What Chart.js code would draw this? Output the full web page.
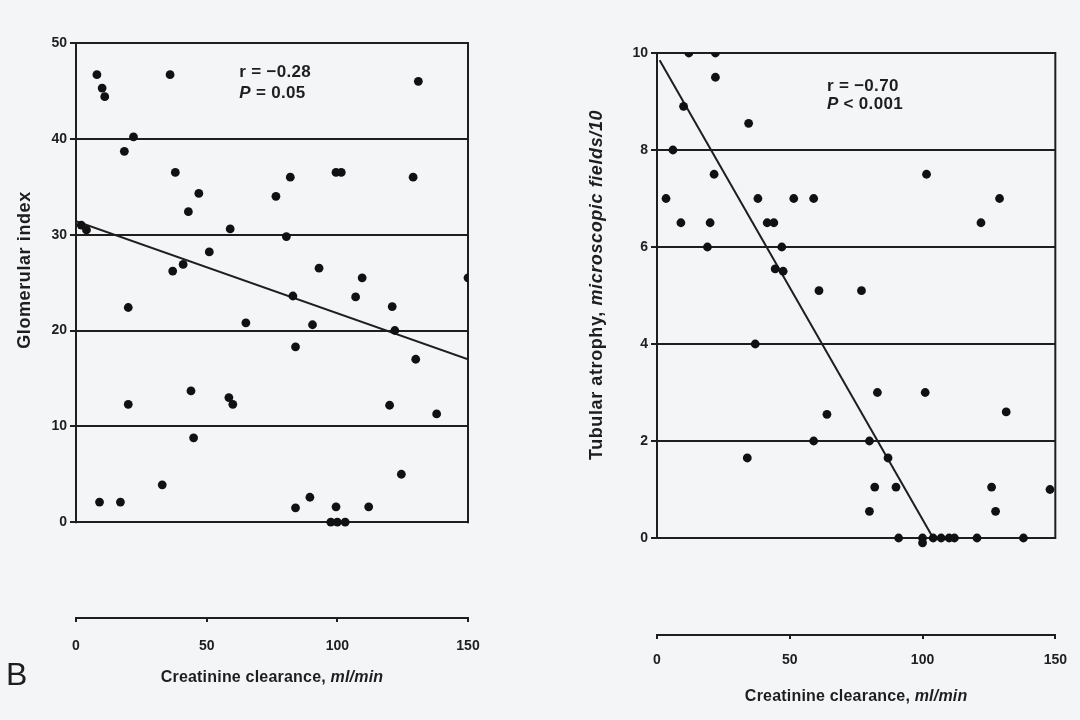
<!DOCTYPE html>
<html><head><meta charset="utf-8">
<script src="https://cdn.jsdelivr.net/npm/chart.js@4.4.1/dist/chart.umd.min.js"></script>
<style>
html,body{margin:0;padding:0;background:#f4f5f7;width:1080px;height:720px;overflow:hidden}
.p{position:absolute;top:0;height:720px;width:540px}
</style></head><body>
<div class="p" style="left:0"><canvas id="c1"></canvas></div>
<div class="p" style="left:540px"><canvas id="c2"></canvas></div>
<script>
// ---- data ----
const xTicks = [0, 50, 100, 150];
const glomTicks = [0, 10, 20, 30, 40, 50];
const tubTicks = [0, 2, 4, 6, 8, 10];

const glomX = [8, 10, 11, 36, 131, 22, 18.5, 38, 82, 99.5, 101.5, 129, 47, 76.5, 43, 2, 4, 59, 80.5, 51, 41, 37, 93, 109.5, 150,
  20, 83, 107, 121, 65, 90.5, 122, 84, 130, 20, 44, 58.5, 60, 120, 138, 45, 33, 124.5, 9, 17, 89.5, 84, 99.5, 112, 97.5, 100, 103];
const glomY = [46.7, 45.3, 44.4, 46.7, 46, 40.2, 38.7, 36.5, 36, 36.5, 36.5, 36, 34.3, 34, 32.4, 31, 30.5, 30.6, 29.8, 28.2, 26.9, 26.2, 26.5, 25.5, 25.5,
  22.4, 23.6, 23.5, 22.5, 20.8, 20.6, 20, 18.3, 17, 12.3, 13.7, 13, 12.3, 12.2, 11.3, 8.8, 3.9, 5, 2.1, 2.1, 2.6, 1.5, 1.6, 1.6, 0, 0, 0];
const glomFitX = [0, 150];
const glomFitY = [31.4, 17];

const tubX = [12, 22, 22, 10, 34.5, 6, 21.5, 101.5, 3.4, 38, 51.5, 59, 129, 9, 20, 41.5, 44, 122, 19, 47, 44.5, 47.5, 61, 77,
  37, 83, 101, 64, 131.5, 59, 80, 34, 87, 82, 90, 126, 148, 80, 127.5, 91, 100, 100, 104, 107, 110, 112, 120.5, 138];
const tubY = [10, 10, 9.5, 8.9, 8.55, 8, 7.5, 7.5, 7, 7, 7, 7, 7, 6.5, 6.5, 6.5, 6.5, 6.5, 6, 6, 5.55, 5.5, 5.1, 5.1,
  4, 3, 3, 2.55, 2.6, 2, 2, 1.65, 1.65, 1.05, 1.05, 1.05, 1, 0.55, 0.55, 0, 0, -0.1, 0, 0, 0, 0, 0, 0];
const tubFitX = [1, 104];
const tubFitY = [9.85, 0];

// ---- texts ----
const xTitleRuns = [['Creatinine clearance, ', false], ['ml/min', true]];
const glomTitleRuns = [['Glomerular index', false]];
const tubTitleRuns = [['Tubular atrophy, ', false], ['microscopic fields/10', true]];
const glomStats = [[['r = \u22120.28', false]], [['P', true], [' = 0.05', false]]];
const tubStats = [[['r = \u22120.70', false]], [['P', true], [' < 0.001', false]]];
const panelLabel = 'B';

const FAM = '"Liberation Sans", Arial, sans-serif';
const INK = '#1e1e1e';

function runFont(size, it, bold){ return (it ? 'italic ' : '') + (bold ? 'bold ' : '') + size + 'px ' + FAM; }
function drawRuns(ctx, runs, x, y, size, align, spacing){
  ctx.letterSpacing = (spacing || 0) + 'px';
  let w = 0;
  runs.forEach(r => { ctx.font = runFont(size, r[1], true); w += ctx.measureText(r[0]).width; });
  let cx = align === 'center' ? x - w / 2 : x;
  ctx.textBaseline = 'middle'; ctx.textAlign = 'left'; ctx.fillStyle = INK;
  runs.forEach(r => { ctx.font = runFont(size, r[1], true); ctx.fillText(r[0], cx, y); cx += ctx.measureText(r[0]).width; });
  ctx.letterSpacing = '0px';
}

const deco = {
  id: 'deco',
  beforeDatasetsDraw(chart, args, o){
    const {ctx} = chart, xs = chart.scales.x, ys = chart.scales.y;
    ctx.save();
    ctx.strokeStyle = INK; ctx.lineWidth = 2;
    [0, 150].forEach(v => {
      const px = xs.getPixelForValue(v);
      ctx.beginPath(); ctx.moveTo(px, ys.getPixelForValue(0) + 1); ctx.lineTo(px, ys.getPixelForValue(o.yMax) - 1); ctx.stroke();
    });
    ctx.restore();
  },
  afterDraw(chart, args, o){
    const {ctx} = chart, xs = chart.scales.x, ys = chart.scales.y, ca = chart.chartArea;
    ctx.save();
    o.stats.forEach((line, i) => drawRuns(ctx, line, xs.getPixelForValue(o.statX), ys.getPixelForValue(o.statY[i]), 17, 'left', 0.3));
    drawRuns(ctx, xTitleRuns, (ca.left + ca.right) / 2, o.xTitleY, 16, 'center', 0.2);
    ctx.save(); ctx.translate(o.yTitleX, o.yTitleY); ctx.rotate(-Math.PI / 2);
    drawRuns(ctx, o.yTitle, 0, 0, 18, 'center', 0.6);
    ctx.restore();
    if (o.label) {
      ctx.font = '32px ' + FAM; ctx.fillStyle = INK; ctx.textAlign = 'left'; ctx.textBaseline = 'middle';
      ctx.fillText(o.label, 6, 676);
    }
    ctx.restore();
  }
};

function build(id, c){
  return new Chart(document.getElementById(id), {
    type: 'scatter',
    data: { datasets: [
      { data: c.xs.map((x, i) => ({x, y: c.ys[i]})), pointRadius: 4.4, pointBackgroundColor: '#111', pointBorderWidth: 0, showLine: false },
      { data: c.fx.map((x, i) => ({x, y: c.fy[i]})), showLine: true, borderColor: INK, borderWidth: 2, pointRadius: 0, fill: false }
    ]},
    options: {
      responsive: true, maintainAspectRatio: false, animation: false, devicePixelRatio: 1,
      layout: { padding: { top: c.padTop, right: c.padRight, left: 0, bottom: 0 } },
      plugins: { legend: { display: false }, tooltip: { enabled: false }, deco: c.deco },
      scales: {
        x: { type: 'linear', min: 0, max: 150,
          afterBuildTicks: s => { s.ticks = xTicks.map(v => ({value: v})); },
          afterFit: s => { s.height = c.xH; },
          grid: { drawOnChartArea: false, drawTicks: true, tickLength: 4, color: INK, lineWidth: 2 },
          border: { display: true, color: INK, width: 2 },
          ticks: { padding: c.xPad, font: { family: FAM, size: 14, weight: 'bold' }, color: INK, maxRotation: 0 } },
        y: { type: 'linear', min: c.yMin, max: c.yMax,
          afterBuildTicks: s => { s.ticks = c.yTicks.map(v => ({value: v})); },
          afterFit: s => { s.width = c.yW; },
          grid: { color: INK, lineWidth: 2, tickLength: 6, drawTicks: true },
          border: { display: false },
          ticks: { padding: 3, font: { family: FAM, size: 14, weight: 'bold' }, color: INK } }
      }
    },
    plugins: [deco]
  });
}

build('c1', { xs: glomX, ys: glomY, fx: glomFitX, fy: glomFitY, yTicks: glomTicks, yMin: -10, yMax: 50,
  padTop: 43, padRight: 72, xH: 102, yW: 76, xPad: 16,
  deco: { yMax: 50, stats: glomStats, statX: 62.5, statY: [46.9, 44.8], xTitleY: 678, yTitle: glomTitleRuns, yTitleX: 25, yTitleY: 270, label: panelLabel } });

build('c2', { xs: tubX, ys: tubY, fx: tubFitX, fy: tubFitY, yTicks: tubTicks, yMin: -2, yMax: 10,
  padTop: 53, padRight: 23, xH: 85, yW: 117, xPad: 13,
  deco: { yMax: 10, stats: tubStats, statX: 64, statY: [9.32, 8.95], xTitleY: 697, yTitle: tubTitleRuns, yTitleX: 57, yTitleY: 285, label: null } });
</script>
</body></html>
